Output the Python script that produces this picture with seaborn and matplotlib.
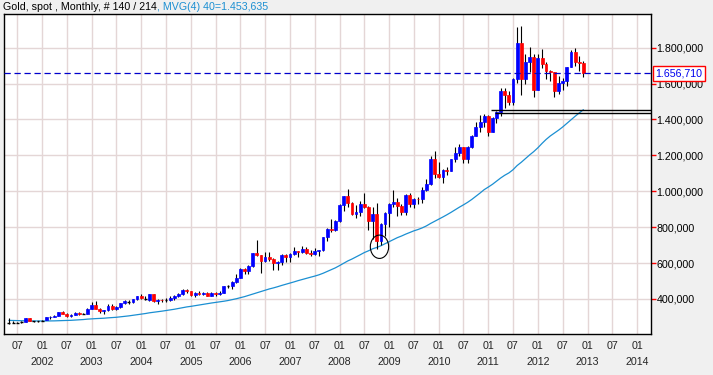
import numpy as np
import pandas as pd
import seaborn as sns
import matplotlib.pyplot as plt
import matplotlib.dates as mdates
import matplotlib.transforms as mtransforms
from matplotlib.patches import Ellipse
from matplotlib.ticker import FuncFormatter, FixedLocator

# ---------------------------------------------------------------
# Data: gold spot, monthly candles 2001-05 .. 2012-12
# ---------------------------------------------------------------
first_month = '2001-05-01'

opens = [267, 268, 266, 272, 272, 292, 276, 277,
         280, 282, 297, 302, 308, 326, 318, 305, 312, 324, 318, 318,
         347, 368, 347, 334, 336, 361, 346, 354, 375, 386, 386, 398,
         416, 402, 396, 426, 388, 397, 392, 392, 408, 416, 428, 452,
         443, 422, 436, 429, 435, 417, 435, 429, 434, 472, 472, 495,
         517, 569, 556, 583, 654, 643, 613, 633, 623, 599, 604, 647,
         632, 650, 665, 662, 679, 659, 650, 665, 673, 743, 789, 783,
         834, 924, 972, 933, 871, 885, 930, 914, 833, 871, 725, 815,
         880, 927, 942, 916, 884, 980, 927, 956, 955, 1008, 1040, 1182,
         1097, 1081, 1117, 1113, 1180, 1213, 1244, 1181, 1248, 1307, 1357, 1386,
         1421, 1333, 1410, 1439, 1556, 1536, 1500, 1628, 1826, 1624, 1723, 1746,
         1565, 1740, 1710, 1668, 1664, 1559, 1604, 1614, 1692, 1774, 1719, 1714]

highs = [293, 275, 272, 280, 294, 294, 280, 280,
         284, 302, 304, 311, 328, 332, 321, 315, 326, 326, 323, 349,
         383, 390, 352, 340, 372, 372, 362, 377, 392, 392, 400, 417,
         427, 419, 427, 428, 398, 399, 408, 416, 420, 432, 456, 457,
         443, 439, 446, 438, 437, 441, 437, 447, 475, 479, 498, 541,
         570, 573, 587, 654, 730, 646, 663, 664, 626, 610, 650, 651,
         657, 690, 670, 693, 690, 672, 683, 675, 745, 795, 845, 839,
         930, 975, 1011, 938, 921, 948, 988, 918, 910, 932, 825, 883,
         937, 1006, 962, 928, 985, 991, 962, 966, 1024, 1070, 1195, 1227,
         1162, 1126, 1135, 1181, 1249, 1265, 1245, 1251, 1311, 1387, 1424, 1432,
         1424, 1416, 1447, 1576, 1577, 1556, 1632, 1913, 1921, 1766, 1803, 1764,
         1764, 1791, 1718, 1678, 1666, 1641, 1632, 1693, 1788, 1796, 1755, 1725]

lows = [263, 265, 264, 265, 271, 276, 270, 271,
        276, 281, 288, 300, 306, 316, 301, 300, 310, 310, 314, 316,
        342, 343, 320, 318, 335, 340, 340, 350, 370, 370, 376, 393,
        399, 393, 389, 383, 371, 381, 385, 387, 396, 411, 423, 434,
        418, 410, 424, 424, 414, 414, 418, 425, 432, 460, 456, 489,
        515, 538, 537, 581, 640, 543, 605, 612, 560, 560, 590, 606,
        604, 644, 636, 659, 651, 640, 645, 641, 670, 723, 774, 780,
        831, 890, 910, 867, 850, 861, 907, 786, 736, 681, 700, 750,
        802, 915, 865, 866, 867, 913, 905, 930, 932, 1003, 1035, 1075,
        1072, 1045, 1090, 1111, 1165, 1196, 1155, 1157, 1240, 1307, 1330, 1360,
        1308, 1329, 1380, 1419, 1462, 1478, 1478, 1602, 1535, 1598, 1667, 1523,
        1563, 1689, 1627, 1612, 1527, 1541, 1563, 1588, 1690, 1696, 1672, 1636]

closes = [267, 268, 266, 272, 292, 279, 276, 277,
          280, 297, 302, 308, 326, 318, 305, 312, 324, 317, 318, 347,
          368, 347, 334, 336, 361, 346, 354, 375, 388, 386, 398, 416,
          404, 402, 426, 388, 394, 392, 392, 408, 416, 428, 452, 443,
          422, 436, 429, 435, 417, 435, 429, 434, 472, 472, 495, 517,
          569, 556, 583, 654, 643, 613, 633, 623, 599, 604, 647, 632,
          650, 665, 662, 679, 659, 650, 665, 673, 743, 789, 783, 834,
          924, 972, 933, 871, 885, 930, 914, 833, 871, 725, 815, 880,
          927, 942, 916, 884, 980, 927, 955, 955, 1008, 1040, 1182, 1097,
          1081, 1117, 1113, 1180, 1213, 1244, 1181, 1248, 1307, 1357, 1386, 1421,
          1333, 1410, 1439, 1556, 1536, 1500, 1628, 1826, 1624, 1723, 1746, 1565,
          1740, 1710, 1668, 1664, 1559, 1604, 1614, 1692, 1774, 1719, 1714, 1657]

# closes 1998-02 .. 2001-04, only needed to fill the 40 month average
prior_closes = [297, 301, 310, 293, 296, 288, 273, 294, 292, 294, 288,
                287, 287, 280, 286, 268, 261, 255, 255, 299, 300, 292, 290,
                284, 293, 278, 276, 272, 289, 277, 277, 273, 265, 270, 272,
                266, 267, 258, 264]

ma_window = 40
last_price = 1656.71
ma_label = '1.453,635'
support_levels = [1453.6, 1438.0]
support_starts = ['2011-01-20', '2011-02-22']
marked_low = ('2008-10-21', 691)
y_ticks = [400, 600, 800, 1000, 1200, 1400, 1600, 1800]

# ---------------------------------------------------------------
# build frame
# ---------------------------------------------------------------
dates = pd.date_range(first_month, periods=len(closes), freq='MS')
df = pd.DataFrame({'date': dates, 'open': opens, 'high': highs,
                   'low': lows, 'close': closes})
all_closes = pd.Series(prior_closes + closes)
df['ma'] = all_closes.rolling(ma_window).mean().iloc[len(prior_closes):].values

# ---------------------------------------------------------------
# plot
# ---------------------------------------------------------------
sns.set_style('white')
plt.rcParams['font.family'] = ['Liberation Sans', 'DejaVu Sans']
plt.rcParams['hatch.color'] = '#e6e6e6'
plt.rcParams['hatch.linewidth'] = 0.7

W, H = 713, 375
fig = plt.figure(figsize=(W / 100, H / 100), dpi=100, facecolor='#f0f0f0')
ax = fig.add_axes([4 / W, 1 - 334.3 / H, (651 - 4) / W, (334.3 - 14) / H])
ax.set_facecolor('white')
ax.patch.set_hatch('////')

x_left = pd.Timestamp('2001-03-26')
x_right = pd.Timestamp('2014-04-13')
ax.set_xlim(x_left, x_right)
ax.set_ylim(203.3, 1987.7)

# grid
grid_col = '#e4d6d6'
tick_dates = pd.date_range('2001-07-01', '2014-01-01', freq='6MS')
for d in tick_dates:
    ax.axvline(d, color=grid_col, lw=1.0, zorder=0.5)
for v in y_ticks:
    ax.axhline(v, color=grid_col, lw=1.0, zorder=0.5)

# moving average
sns.lineplot(data=df, x='date', y='ma', color='#1b8fd2', linewidth=0.9, ax=ax, zorder=2)

# candles
ax.vlines(df['date'], df['low'], df['high'], color='black', lw=0.8, zorder=3)
up = df[df['close'] > df['open']]
dn = df[df['close'] < df['open']]
flat = df[df['close'] == df['open']]
body_w = 21
ax.bar(up['date'], up['close'] - up['open'], bottom=up['open'], width=body_w,
       color='#0000ff', edgecolor='#0000ff', linewidth=0.5, zorder=4)
ax.bar(dn['date'], dn['open'] - dn['close'], bottom=dn['close'], width=body_w,
       color='#ff0000', edgecolor='#ff0000', linewidth=0.5, zorder=4)
half = pd.Timedelta(days=body_w / 2)
ax.hlines(flat['close'], flat['date'] - half, flat['date'] + half,
          color='black', lw=1.0, zorder=4)

# last price and support lines
ax.axhline(last_price, color='#0000cc', lw=0.9, ls=(0, (5, 3)), zorder=5)
for lvl, s in zip(support_levels, support_starts):
    ax.hlines(lvl, pd.Timestamp(s), x_right, color='black', lw=1.0, zorder=5)

# circle around the 2008 low
cx = mdates.date2num(pd.Timestamp(marked_low[0]))
ax.add_patch(Ellipse((cx, marked_low[1]), width=135, height=130,
                     fill=False, ec='black', lw=0.8, zorder=6))

# axes frame
for sp in ax.spines.values():
    sp.set_visible(True)
    sp.set_color('black')
    sp.set_linewidth(1.0)


def euro(v, pos=None):
    s = f'{v:,.3f}'
    return s.replace(',', 'X').replace('.', ',').replace('X', '.')


ax.yaxis.tick_right()
ax.yaxis.set_major_locator(FixedLocator(y_ticks))
ax.yaxis.set_major_formatter(FuncFormatter(euro))
ax.tick_params(axis='y', which='major', length=3.5, width=1, color='red',
               labelsize=7.7, pad=0.6, labelcolor='black')
ax.set_ylabel('')

ax.xaxis.set_major_locator(FixedLocator(mdates.date2num(tick_dates)))
ax.xaxis.set_major_formatter(mdates.DateFormatter('%m'))
ax.tick_params(axis='x', length=0, labelsize=7.7, pad=5)
ax.set_xlabel('')

trans = mtransforms.blended_transform_factory(ax.transData, ax.transAxes)
for d in tick_dates:
    if d.month == 1:
        ax.text(d, -0.088, str(d.year), transform=trans, ha='center',
                va='center', fontsize=7.7)

# current price box
ytrans = mtransforms.blended_transform_factory(ax.transAxes, ax.transData)
ax.text(1.007, last_price, euro(last_price), transform=ytrans, ha='left',
        va='center', fontsize=7.7, color='#0000ee', zorder=10, clip_on=False,
        bbox=dict(boxstyle='square,pad=0.22', fc='white', ec='red', lw=1.0))

# title
t1 = fig.text(3 / W, 1 - 7 / H, 'Gold, spot , Monthly, # 140 / 214', ha='left',
              va='center', fontsize=7.7, color='black')
fig.canvas.draw()
bb = t1.get_window_extent()
fig.text(bb.x1 / W, 1 - 7 / H, f', MVG(4) {ma_window}={ma_label}', ha='left',
         va='center', fontsize=7.7, color='#1b8fd2')

fig.savefig('out.png', dpi=100, facecolor=fig.get_facecolor())
